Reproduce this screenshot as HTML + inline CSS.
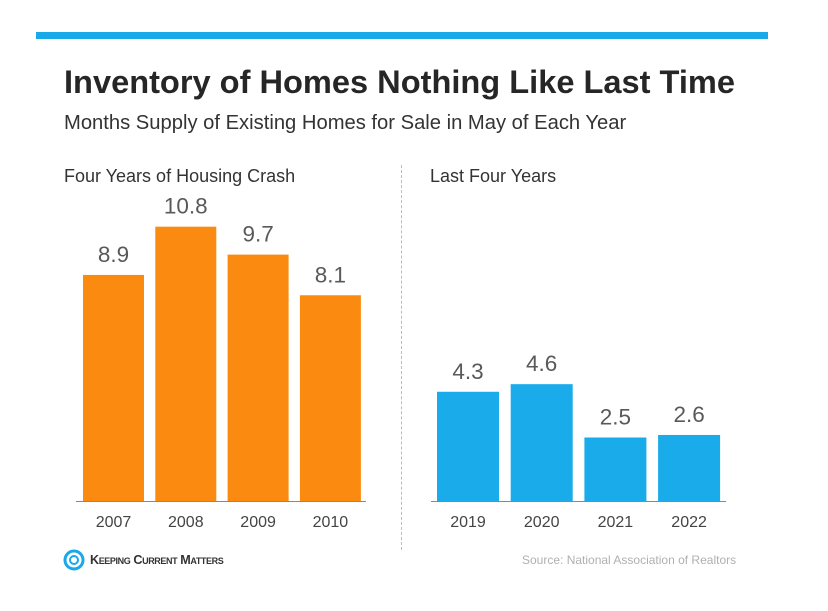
<!DOCTYPE html>
<html><head><meta charset="utf-8"><style>
body{margin:0;width:828px;height:611px;background:#fff;font-family:"Liberation Sans",sans-serif;overflow:hidden;position:relative}
.a{position:absolute;white-space:nowrap}
</style></head><body>
<div class="a" style="left:36px;top:32px;width:732px;height:7px;background:#1aa9e8"></div>
<div class="a" style="left:64px;top:63px;font-size:32.6px;font-weight:bold;color:#262626">Inventory of Homes Nothing Like Last Time</div>
<div class="a" style="left:64px;top:112px;font-size:20.2px;color:#333">Months Supply of Existing Homes for Sale in May of Each Year</div>
<div class="a" style="left:64px;top:166px;font-size:18px;color:#333">Four Years of Housing Crash</div>
<div class="a" style="left:430px;top:166px;font-size:18px;color:#333">Last Four Years</div>
<div class="a" style="left:401px;top:165px;height:385px;border-left:1px dashed #bbb"></div>
<svg class="a" style="left:0;top:0" width="828" height="611">
<g id="g"></g>
<g><circle cx="74" cy="560" r="9" fill="none" stroke="#1aa9e8" stroke-width="3"/><circle cx="74" cy="560" r="4" fill="none" stroke="#1aa9e8" stroke-width="2"/></g>
</svg>
<div class="a" style="left:90px;top:553px;font-weight:bold;color:#333;font-variant:small-caps;letter-spacing:-0.4px;font-size:12.6px">Keeping Current Matters</div>
<div class="a" style="left:522px;top:553px;font-size:12px;color:#b0b0b0">Source: National Association of Realtors</div>
<script>
const leftCats=["2007","2008","2009","2010"];
const leftVals=[8.9,10.8,9.7,8.1];
const rightCats=["2019","2020","2021","2022"];
const rightVals=[4.3,4.6,2.5,2.6];
const NS="http://www.w3.org/2000/svg",g=document.getElementById('g');
const base=501,unit=25.4;
function y(v){return base-v*unit;}
function mk(t,a){const e=document.createElementNS(NS,t);for(const k in a)e.setAttribute(k,a[k]);g.appendChild(e);return e;}
function panel(cats,vals,x0,step,w,color,name,lx1,lx2){
 const ln=mk('line',{x1:lx1,x2:lx2,y1:base+0.5,y2:base+0.5,stroke:'#888','stroke-width':1});
 
 
 cats.forEach((c,i)=>{
  const x=x0+i*step,v=vals[i];
  const r=mk('rect',{x:x,y:y(v),width:w,height:base-y(v),fill:color});
  
  
  const t=mk('text',{x:x+w/2,y:y(v)-13,'text-anchor':'middle','font-size':22.5,fill:'#595959'});t.textContent=v.toFixed(1);
  
  
  const l=mk('text',{x:x+w/2,y:527,'text-anchor':'middle','font-size':16,fill:'#444'});l.textContent=c;
  
  
 });
}
panel(leftCats,leftVals,83,72.3,61,'#fb8a10','left',76,366);
panel(rightCats,rightVals,437,73.7,62,'#1aabeb','right',431,726);
</script>
</body></html>
